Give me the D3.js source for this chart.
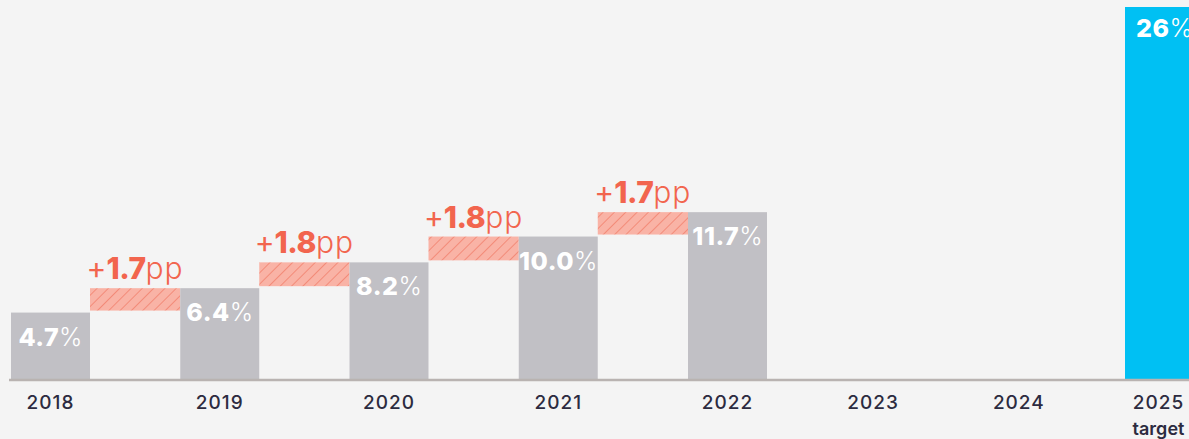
<!DOCTYPE html>
<html lang="en">
<head>
<meta charset="utf-8">
<script src="https://d3js.org/d3.v7.min.js"></script>
<style>
  html, body { margin: 0; padding: 0; background: #f4f4f4; overflow: hidden; }
  svg { display: block; font-family: "Inter", "Open Sans", sans-serif; }
</style>
</head>
<body>
<div id="chart"></div>
<script>
  // data
  var years = ["2018", "2019", "2020", "2021", "2022", "2023", "2024", "2025"];
  var shares = [4.7, 6.4, 8.2, 10.0, 11.7, null, null, 26];
  var changes = [1.7, 1.8, 1.8, 1.7];
  var subLabels = ["", "", "", "", "", "", "", "target"];

  var width = 1189, height = 439;
  var baseY = 380, barW = 79;

  var svg = d3.select("#chart").append("svg")
      .attr("width", width)
      .attr("height", height);

  var defs = svg.append("defs");
  var pat = defs.append("pattern")
      .attr("id", "hatch")
      .attr("patternUnits", "userSpaceOnUse")
      .attr("width", 8)
      .attr("height", 8)
      .attr("patternTransform", "rotate(45)");
  pat.append("rect").attr("width", 8).attr("height", 8).attr("fill", "#f9b3a6");
  pat.append("line")
      .attr("x1", 0).attr("y1", 0).attr("x2", 0).attr("y2", 8)
      .attr("stroke", "#f07560").attr("stroke-width", 1.3);

  // years sit wider apart while there is data, then tighter up to the target
  var x = d3.scaleLinear()
      .domain([2018, 2022, 2025])
      .range([50.5, 727.5, 1164.5]);

  var y = d3.scaleLinear()
      .domain([0, 26])
      .range([baseY, 7]);

  var data = years.map(function(d, i) {
    return { year: d, value: shares[i], sub: subLabels[i] };
  });
  var withValue = data.filter(function(d) { return d.value != null; });

  // hatched steps between bars
  var steps = changes.map(function(c, i) {
    return { change: c, from: shares[i], to: shares[i + 1], a: +years[i], b: +years[i + 1] };
  });

  svg.selectAll(".step")
      .data(steps)
      .enter().append("rect")
      .attr("class", "step")
      .attr("x", function(d) { return x(d.a) + barW / 2; })
      .attr("width", function(d) { return x(d.b) - x(d.a) - barW; })
      .attr("y", function(d) { return y(d.to); })
      .attr("height", function(d) { return y(d.from) - y(d.to) - 2; })
      .attr("fill", "url(#hatch)");

  var stepLabel = svg.selectAll(".stepLabel")
      .data(steps)
      .enter().append("text")
      .attr("class", "stepLabel")
      .attr("x", function(d) { return (x(d.a) + x(d.b)) / 2; })
      .attr("y", function(d) { return y(d.to) - 9; })
      .attr("text-anchor", "middle")
      .attr("fill", "#f2654e")
      .attr("font-size", 30);
  stepLabel.append("tspan").attr("font-weight", 400).text("+");
  stepLabel.append("tspan").attr("font-weight", 800).attr("letter-spacing", -0.5)
      .text(function(d) { return d.change.toFixed(1); });
  stepLabel.append("tspan").attr("font-weight", 300).attr("letter-spacing", 1).text("pp");

  // bars
  svg.selectAll(".bar")
      .data(withValue)
      .enter().append("rect")
      .attr("class", "bar")
      .attr("x", function(d) { return x(+d.year) - barW / 2; })
      .attr("width", barW)
      .attr("y", function(d) { return y(d.value); })
      .attr("height", function(d) { return baseY - y(d.value); })
      .attr("fill", function(d) { return d.year === "2025" ? "#00c0f3" : "#c1c0c5"; });

  var valLabel = svg.selectAll(".valLabel")
      .data(withValue)
      .enter().append("text")
      .attr("class", "valLabel")
      .attr("x", function(d) { return x(+d.year); })
      .attr("y", function(d) { return y(d.value) + (d.year === "2025" ? 30 : 33); })
      .attr("text-anchor", "middle")
      .attr("fill", "#ffffff")
      .attr("font-size", 25);
  valLabel.append("tspan").attr("font-weight", 800).attr("letter-spacing", 0.5)
      .text(function(d) { return d.year === "2025" ? d3.format("d")(d.value) : d.value.toFixed(1); });
  valLabel.append("tspan").attr("font-weight", 300).text("%");

  // baseline
  svg.append("line")
      .attr("x1", 9).attr("x2", width)
      .attr("y1", baseY).attr("y2", baseY)
      .attr("stroke", "#b9b3b1")
      .attr("stroke-width", 2.5);

  // year labels
  svg.selectAll(".year")
      .data(data)
      .enter().append("text")
      .attr("class", "year")
      .attr("x", function(d) { return x(+d.year) - (d.sub ? 6 : 0); })
      .attr("y", 409)
      .attr("text-anchor", "middle")
      .attr("fill", "#2c2b40")
      .attr("font-size", 19)
      .attr("font-weight", 500)
      .attr("letter-spacing", 1)
      .text(function(d) { return d.year; });

  svg.selectAll(".sub")
      .data(data.filter(function(d) { return d.sub; }))
      .enter().append("text")
      .attr("class", "sub")
      .attr("x", function(d) { return x(+d.year) - 6; })
      .attr("y", 435)
      .attr("text-anchor", "middle")
      .attr("fill", "#2c2b40")
      .attr("font-size", 18)
      .attr("font-weight", 600)
      .text(function(d) { return d.sub; });
</script>
</body>
</html>
